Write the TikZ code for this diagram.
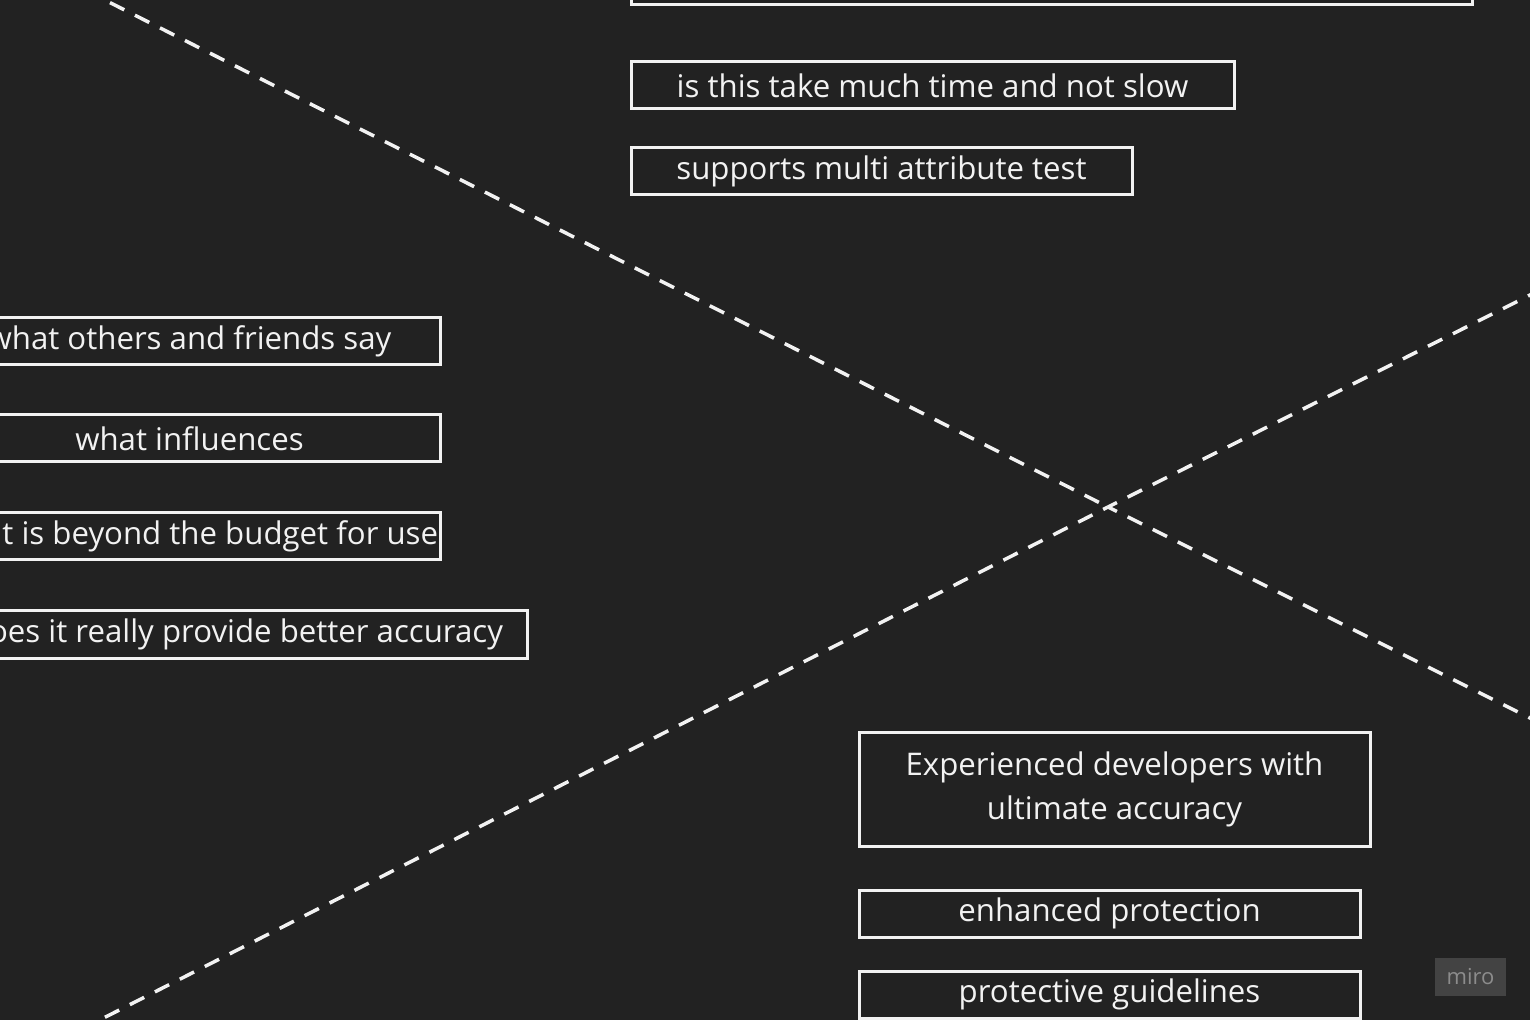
\documentclass[tikz,border=0pt]{standalone}
\usepackage{fontspec}
\setmainfont{Open Sans}
\usetikzlibrary{positioning}

\definecolor{board}{HTML}{222222}
\definecolor{chalk}{HTML}{F2F2F2}
\definecolor{tagfill}{HTML}{434343}
\definecolor{tagtext}{HTML}{8C8C8C}

\begin{document}
\begin{tikzpicture}[
    x=0.5pt, y=-0.5pt,
    card/.style={rectangle, draw=chalk, line width=1.5pt, text=chalk,
                 minimum height=23.5pt, inner sep=0pt, align=center,
                 font=\fontsize{15.6}{22}\selectfont},
    cardtext/.style={text=chalk, inner sep=0pt, font=\fontsize{15.6}{22}\selectfont},
    cut/.style={draw=chalk, line width=1.75pt, dash pattern=on 8pt off 6pt},
    badge/.style={rectangle, fill=tagfill, text=tagtext, minimum width=35.5pt,
                  minimum height=19pt, font=\fontsize{11}{12}\selectfont},
]
    \fill[board] (0,0) rectangle (1530,1020);
    \useasboundingbox (0,0) rectangle (1530,1020);
    \clip (0,0) rectangle (1530,1020);

    % Crossing dashed lines
    \coordinate (x) at (1108,507);
    \coordinate (tl) at (85,-10);
    \coordinate (br) at (1550,728);
    \coordinate (bl) at (80,1030);
    \coordinate (tr) at (1550,285);
    \draw[cut] (tl) -- (x);
    \draw[cut] (bl) -- (x);
    \draw[cut, dash phase=3pt] (x) -- (br);
    \draw[cut, dash phase=3pt] (x) -- (tr);

    % Upper right group
    \node[card, minimum width=420.5pt] (top) at (1051.5,-18.5) {};
    \node[card, minimum width=301.5pt] (slow) at (932.5,85.5) {is this take much time and not slow};
    \node[card, minimum width=250.5pt] (multi) at (881.5,171.5) {supports multi attribute test};

    % Left group
    \node[card, minimum width=250.5pt] (friends) at (189.5,341) {what others and friends say};
    \node[card, minimum width=250.5pt] (influence) at (189.5,438.5) {what influences};
    \node[card, minimum width=250.5pt] (budget) at (189.5,536.5) {};
    \node[cardtext, anchor=east] (budgettext) at ([xshift=-1.5pt]budget.east)
        {it is beyond the budget for use};
    \node[card, minimum width=290.5pt] (better) at (236.5,634.5) {does it really provide better accuracy};

    % Lower right group
    \node[card, minimum width=255.5pt, minimum height=57pt] (expert) at (1114.5,789)
        {Experienced developers with\\ultimate accuracy};
    \node[card, minimum width=250.5pt] (enhanced) at (1109.5,913.5) {enhanced protection};
    \node[card, minimum width=250.5pt] (guide) at (1109.5,994.5) {protective guidelines};

    \node[badge] (miro) at (1470.5,977) {miro};
\end{tikzpicture}
\end{document}
